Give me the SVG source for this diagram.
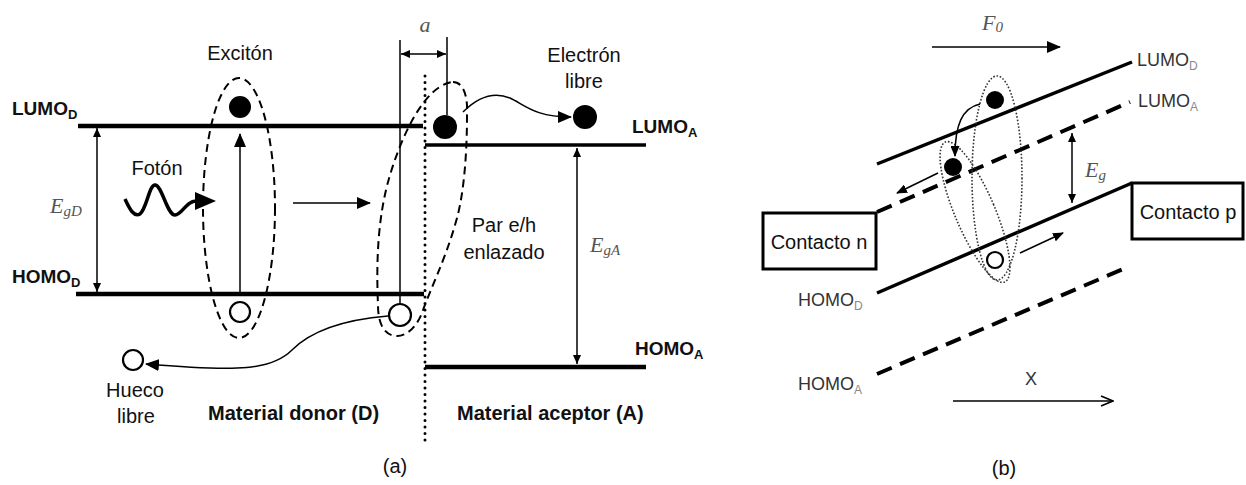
<svg xmlns="http://www.w3.org/2000/svg" width="1246" height="485" viewBox="0 0 1246 485">
<style>
text{font-family:"Liberation Sans",Arial,sans-serif;fill:#111}
.t{font-size:20px}
.b{font-size:19px;font-weight:bold}
.bs{font-size:13px;font-weight:bold}
.r{font-size:18px;fill:#333}
.rs{font-size:12px;fill:#888}
.m{font-family:"Liberation Serif","DejaVu Serif",serif;font-style:italic;fill:#555}
.lvl{stroke:#000;fill:none}
.thin{stroke:#000;stroke-width:1.5;fill:none}
.dash{stroke:#000;stroke-width:2;fill:none;stroke-dasharray:8 5}
.dot{stroke:#333;stroke-width:1.6;fill:none;stroke-dasharray:1.6 1.8}
.ddash{stroke:#000;stroke-width:4;fill:none;stroke-dasharray:16 9}
.box{stroke:#000;stroke-width:3;fill:#fff}
.el{fill:#000}
.ho{fill:#fff;stroke:#000;stroke-width:2.2}
</style>
<defs>
<marker id="ah" markerUnits="userSpaceOnUse" markerWidth="14" markerHeight="12" refX="13" refY="6" orient="auto-start-reverse"><path d="M0,0 L14,6 L0,12 Z" fill="#000"/></marker>
<marker id="am" markerUnits="userSpaceOnUse" markerWidth="11" markerHeight="9" refX="10" refY="4.5" orient="auto-start-reverse"><path d="M0,0 L11,4.5 L0,9 Z" fill="#000"/></marker>
<marker id="as" markerUnits="userSpaceOnUse" markerWidth="9" markerHeight="8" refX="9" refY="4" orient="auto-start-reverse"><path d="M0,0 L9,4 L0,8 Z" fill="#000"/></marker>
<marker id="ao" markerUnits="userSpaceOnUse" markerWidth="14" markerHeight="12" refX="13" refY="6" orient="auto"><path d="M1,1 L13,6 L1,11" fill="none" stroke="#000" stroke-width="1.5"/></marker>
</defs>
<rect width="1246" height="485" fill="#fff"/>

<!-- Panel (a) -->
<g id="levels-a">
  <line class="lvl" x1="78" y1="126" x2="423" y2="126" stroke-width="4.5"/>
  <line class="lvl" x1="425" y1="145" x2="646" y2="145" stroke-width="3.5"/>
  <line class="lvl" x1="76" y1="294" x2="424" y2="294" stroke-width="4.5"/>
  <line class="lvl" x1="425" y1="367" x2="646" y2="367" stroke-width="4.5"/>
  <line x1="425" y1="76" x2="425" y2="446" stroke="#000" stroke-width="3" stroke-linecap="round" stroke-dasharray="0 6.5"/>
</g>
<g id="labels-a">
  <text class="b" x="12" y="115">LUMO<tspan class="bs" dy="4">D</tspan></text>
  <text class="b" x="12" y="283">HOMO<tspan class="bs" dy="4">D</tspan></text>
  <text class="b" x="632" y="133">LUMO<tspan class="bs" dy="4">A</tspan></text>
  <text class="b" x="635" y="355">HOMO<tspan class="bs" dy="4">A</tspan></text>
  <text class="m" x="50" y="213" font-size="22">E<tspan font-size="15" dy="3">gD</tspan></text>
  <text class="m" x="590" y="252" font-size="22">E<tspan font-size="15" dy="3">gA</tspan></text>
  <text class="m" x="425" y="32" font-size="22" text-anchor="middle">a</text>
  <text class="t" x="240" y="60" text-anchor="middle">Excitón</text>
  <text class="t" x="157" y="175" text-anchor="middle">Fotón</text>
  <text class="t" x="584" y="62" text-anchor="middle">Electrón</text>
  <text class="t" x="584" y="88" text-anchor="middle">libre</text>
  <text class="t" x="504" y="232" text-anchor="middle">Par e/h</text>
  <text class="t" x="504" y="259" text-anchor="middle">enlazado</text>
  <text class="t" x="135" y="397" text-anchor="middle">Hueco</text>
  <text class="t" x="136" y="423" text-anchor="middle">libre</text>
  <text class="t" x="208" y="420" font-weight="bold">Material donor (D)</text>
  <text class="t" x="457" y="420" font-weight="bold">Material aceptor (A)</text>
  <text class="t" x="395" y="473" text-anchor="middle">(a)</text>
</g>
<g id="exciton">
  <ellipse class="dash" cx="239" cy="208" rx="36" ry="130"/>
  <circle class="el" cx="240" cy="107" r="11"/>
  <circle class="ho" cx="240" cy="312" r="10"/>
</g>
<g id="bound-pair">
  <path class="dash" d="M453 82 C463 82 468 95 467 115 C467 160 463 200 455 225 C445 260 430 290 422 313 C415 330 405 336 397 336 C385 336 378 325 378 305 C376 260 378 215 390 175 C402 135 425 85 453 82 Z"/>
  <circle class="el" cx="445" cy="127" r="12"/>
  <circle class="ho" cx="400" cy="315" r="11"/>
</g>
<g id="free-electron"><circle class="el" cx="585" cy="117" r="12"/></g>
<g id="free-hole"><circle class="ho" cx="133" cy="360" r="10"/></g>
<g id="photon">
  <path d="M125 199 C130 210 134 217 140 214 C147 208 149 185 155 185 C162 185 167 215 175 215 C182 215 186 201 196 201" fill="none" stroke="#000" stroke-width="3.5"/>
  <polygon points="195,192 216,201 195,210" fill="#000"/>
</g>
<g id="connectors-a">
  <line class="thin" x1="97" y1="128" x2="97" y2="292" marker-start="url(#as)" marker-end="url(#as)"/>
  <line class="thin" x1="577" y1="148" x2="577" y2="364" marker-start="url(#as)" marker-end="url(#as)"/>
  <line class="thin" x1="240" y1="294" x2="240" y2="134" stroke-width="2" marker-end="url(#ah)"/>
  <line class="thin" x1="293" y1="203" x2="370" y2="203" stroke-width="2" marker-end="url(#ah)"/>
  <line class="thin" x1="400" y1="40" x2="400" y2="304"/>
  <line class="thin" x1="447" y1="37" x2="447" y2="115"/>
  <line class="thin" x1="401" y1="54" x2="446" y2="54" marker-start="url(#as)" marker-end="url(#as)"/>
  <path class="thin" d="M463 112 C480 95 495 92 510 98 C525 105 535 117 571 117" marker-end="url(#ah)"/>
  <path class="thin" d="M388 316 C340 320 310 332 292 350 C272 370 240 372 146 364" marker-end="url(#ah)"/>
</g>

<!-- Panel (b) -->
<g id="levels-b">
  <line class="lvl" x1="877" y1="164" x2="1132" y2="62" stroke-width="3.5"/>
  <line class="ddash" x1="877" y1="212" x2="1130" y2="102"/>
  <line class="lvl" x1="877" y1="293" x2="1132" y2="183" stroke-width="3.5"/>
  <line class="ddash" x1="877" y1="374" x2="1128" y2="267"/>
</g>
<g id="contacto-n">
  <rect class="box" x="763" y="213" width="113" height="56"/>
  <text class="t" x="819" y="249" text-anchor="middle">Contacto n</text>
</g>
<g id="contacto-p">
  <rect class="box" x="1132" y="183" width="111" height="56"/>
  <text class="t" x="1188" y="219" text-anchor="middle">Contacto p</text>
</g>
<g id="labels-b">
  <text class="r" x="1137" y="66">LUMO<tspan class="rs" dy="4">D</tspan></text>
  <text class="r" x="1138" y="107">LUMO<tspan class="rs" dy="4">A</tspan></text>
  <text class="r" x="798" y="306">HOMO<tspan class="rs" dy="4">D</tspan></text>
  <text class="r" x="798" y="390">HOMO<tspan class="rs" dy="4">A</tspan></text>
  <text class="m" x="982" y="30" font-size="22">F<tspan font-size="15" dy="2">0</tspan></text>
  <text class="m" x="1085" y="177" font-size="22">E<tspan font-size="15" dy="3">g</tspan></text>
  <text class="r" x="1031" y="385" text-anchor="middle">X</text>
  <text class="t" x="1004" y="475" text-anchor="middle">(b)</text>
</g>
<g id="pairs-b">
  <ellipse class="dot" cx="997" cy="178" rx="25" ry="102"/>
  <ellipse class="dot" cx="975" cy="212" rx="20" ry="76" transform="rotate(-23 975 212)"/>
  <circle class="el" cx="995" cy="100" r="9"/>
  <circle class="el" cx="953" cy="167" r="9"/>
  <circle class="ho" cx="995" cy="260" r="8" stroke-width="2"/>
</g>
<g id="connectors-b">
  <line class="thin" x1="932" y1="47" x2="1060" y2="47" stroke-width="3" marker-end="url(#ah)"/>
  <line class="thin" x1="1072" y1="133" x2="1072" y2="203" marker-start="url(#as)" marker-end="url(#as)"/>
  <path class="thin" d="M980 104 C962 108 955 125 955 156" marker-end="url(#am)"/>
  <line class="thin" x1="938" y1="173" x2="897" y2="193" marker-end="url(#am)"/>
  <line class="thin" x1="1020" y1="253" x2="1063" y2="233" marker-end="url(#am)"/>
  <line class="thin" x1="953" y1="401" x2="1113" y2="401" marker-end="url(#ao)"/>
</g>
</svg>
